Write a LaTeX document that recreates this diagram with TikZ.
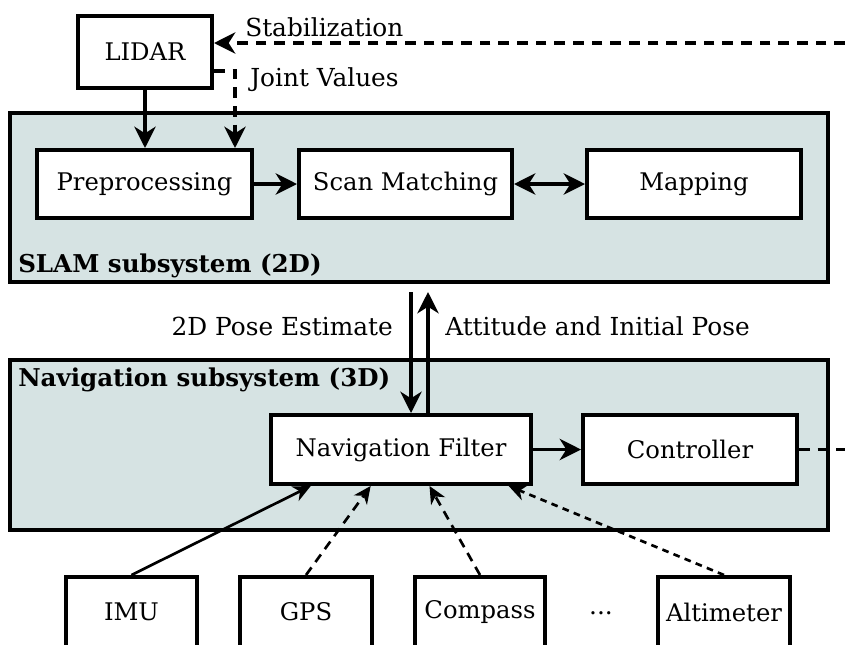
\documentclass[tikz,border=0pt]{standalone}
\usepackage{fontspec}
\setmainfont{DejaVu Serif}
\usetikzlibrary{arrows.meta,calc}
\definecolor{grpfill}{RGB}{214,227,227}
\tikzset{
  box/.style={draw, line width=3pt, fill=white, inner sep=0pt, font=\fontsize{18.2}{21}\selectfont},
  grp/.style={draw, line width=3pt, fill=grpfill, inner sep=0pt},
  grplabel/.style={anchor=west, inner sep=0pt, font=\fontsize{18.4}{21}\selectfont\bfseries},
  lbl/.style={inner sep=0pt, font=\fontsize{18.6}{21}\selectfont},
  arr/.style={line width=2.6pt, -{Stealth[length=16pt,width=16pt,inset=5pt]}},
  darr/.style={arr, dash pattern=on 8pt off 6pt},
  dline/.style={line width=2.6pt, dash pattern=on 8pt off 6pt},
  sarr/.style={line width=2pt, -{Stealth[length=13pt,width=12pt,inset=4pt]}},
  sdarr/.style={sarr, dash pattern=on 7pt off 5pt},
  sdotarr/.style={sarr, dash pattern=on 5pt off 4pt},
}
\begin{document}
\begin{tikzpicture}[x=0.75pt,y=-0.75pt]
\useasboundingbox (0,0) rectangle (845,644);
% groups
\node[grp, minimum width=613.5pt, minimum height=126.75pt] (slam) at (419,197.5) {};
\node[grp, minimum width=613.5pt, minimum height=127.5pt] (nav) at (419,445) {};
\node[grplabel] (slamlbl) at (18,266) {SLAM subsystem (2D)};
\node[grplabel] (navlbl) at (18,380) {Navigation subsystem (3D)};
% boxes
\node[box, minimum width=100.5pt, minimum height=54pt] (lidar) at (145,52) {LIDAR};
\node[box, minimum width=161.25pt, minimum height=51pt] (pre) at (144.5,184) {Preprocessing};
\node[box, minimum width=159.75pt, minimum height=51pt] (scan) at (405.5,184) {Scan Matching};
\node[box, minimum width=160.5pt, minimum height=51pt] (map) at (694,184) {Mapping};
\node[box, minimum width=195pt, minimum height=51.75pt] (nf) at (401,449.5) {Navigation Filter};
\node[box, minimum width=160.5pt, minimum height=51.75pt] (ctrl) at (690,449.5) {Controller};
\node[box, minimum width=98.25pt, minimum height=52.5pt] (imu) at (131.5,612) {IMU};
\node[box, minimum width=99pt, minimum height=52.5pt] (gps) at (306,612) {GPS};
\node[box, minimum width=97.5pt, minimum height=52.5pt] (compass) at (480,612) {Compass};
\node[box, minimum width=99pt, minimum height=52.5pt] (alt) at (724,612) {Altimeter};
\node[lbl] (dots) at (601,613) {...};
% top connectors
\coordinate (stabin) at (845,43);
\coordinate (jv) at (235,71);
\draw[darr] (stabin) -- (stabin -| lidar.east);
\node[lbl, anchor=west] (stablbl) at (245,27) {Stabilization};
\draw[darr] (lidar.east |- jv) -| (pre.north -| jv);
\node[lbl, anchor=west] (jvlbl) at (250,80) {Joint Values};
\draw[arr] (lidar.south) -- (lidar.south |- pre.north);
\draw[arr] (pre) -- (scan);
\draw[arr, {Stealth[length=16pt,width=16pt,inset=5pt]}-{Stealth[length=16pt,width=16pt,inset=5pt]}] (scan) -- (map);
% between subsystems
\coordinate (pd) at (411,292);
\coordinate (pu) at (428,292);
\draw[arr] (pd) -- (pd |- nf.north);
\draw[arr] (pu |- nf.north) -- (pu);
\node[lbl, anchor=east] (poselbl) at (393,326) {2D Pose Estimate};
\node[lbl, anchor=west] (attlbl) at (445,326) {Attitude and Initial Pose};
% navigation
\draw[arr] (nf) -- (ctrl);
\coordinate (ctrlout) at (845,449.5);
\draw[dline] (ctrl.east) -- (ctrlout);
% sensors
\draw[sarr] (imu.north) -- ($(nf.south west)!0.158!(nf.south east)$);
\draw[sdarr] (gps.north) -- ($(nf.south west)!0.385!(nf.south east)$);
\draw[sdarr] (compass.north) -- ($(nf.south west)!0.608!(nf.south east)$);
\draw[sdotarr] (alt.north) -- ($(nf.south west)!0.908!(nf.south east)$);
\end{tikzpicture}
\end{document}
